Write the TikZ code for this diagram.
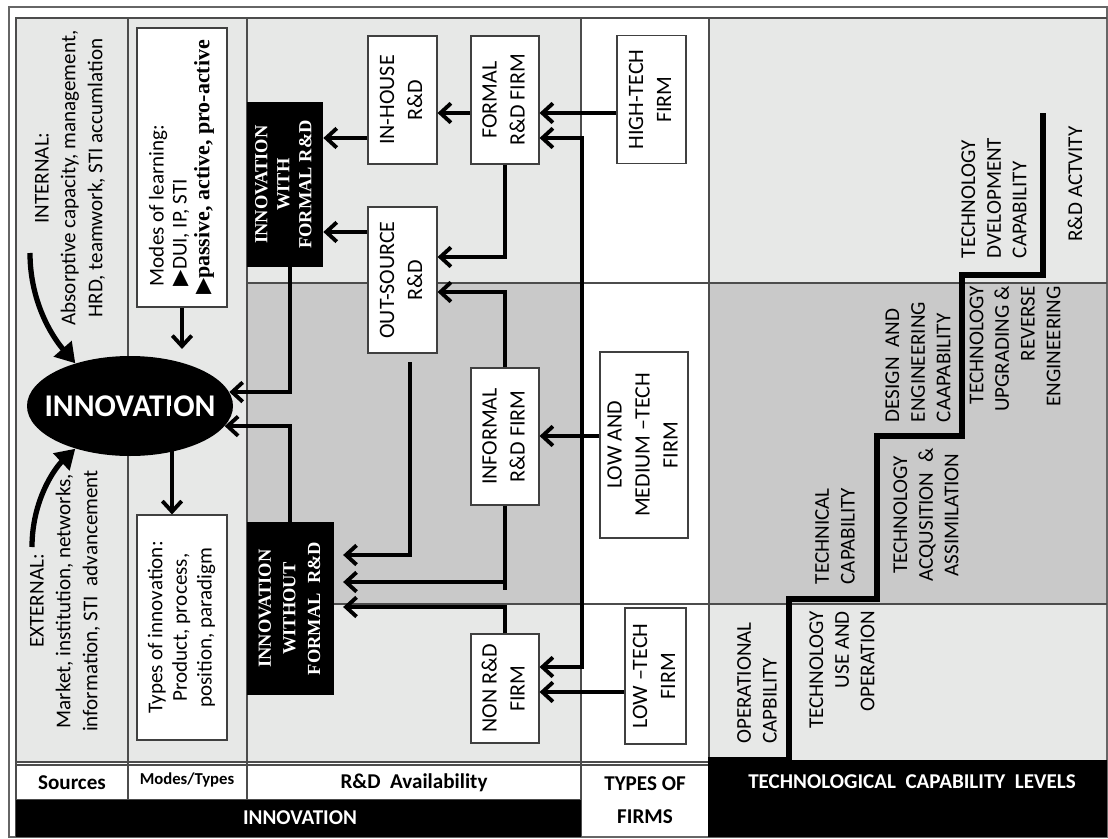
\documentclass[tikz,border=0pt]{standalone}
\usepackage{fontspec}
\setmainfont{Carlito}
\newfontfamily\serifbf{Liberation Serif}
\newfontfamily\symfont{DejaVu Sans}
\usepackage{graphicx}
\usepackage{tikz}
\usetikzlibrary{arrows.meta,shapes.geometric}

\newcommand{\pxu}{0.02cm}
\newcommand{\vt}[2][c]{\rotatebox{90}{\begin{tabular}{@{}#1@{}}#2\end{tabular}}}

\definecolor{lightbg}{RGB}{231,232,231}
\definecolor{darkbg}{RGB}{201,201,201}

\tikzset{
  grid line/.style={draw=black!70, line width=0.6pt},
  sz/.style 2 args={minimum width=#1*\pxu, minimum height=#2*\pxu},
  firm/.style={draw=black!75, fill=white, line width=0.6pt, inner sep=0pt,
    font=\fontsize{12.5}{16}\selectfont},
  darkbox/.style={fill=black, text=white, inner sep=0pt,
    font=\serifbf\bfseries\fontsize{10.5}{12.5}\selectfont},
  vlab/.style={rotate=90, inner sep=0pt, font=\fontsize{12}{14.6}\selectfont},
  head/.style={inner sep=0pt, font=\bfseries\fontsize{12}{19}\selectfont},
  flow/.style={line width=2.2pt, ->},
  wire/.style={line width=2.2pt},
  bigarrow/.style={line width=3pt, -{Triangle[length=11pt,width=13pt]}},
  stair/.style={line width=3.2pt},
}

\begin{document}
\begin{tikzpicture}[x=0.02cm, y=-0.02cm, >={Straight Barb[length=6pt,width=11pt]}]
    \useasboundingbox (0,0) rectangle (1108,838);
    
    % fonds des colonnes
    \fill[lightbg] (16,18) rectangle (247,762);
    \foreach \ya/\yb/\c in {18/283/lightbg, 283/604/darkbg, 604/762/lightbg}{
        \fill[\c] (247,\ya) rectangle (581,\yb);
        \fill[\c] (709,\ya) rectangle (1107,\yb);
    }
    
    % cadre et grille
    \draw[black!60, line width=0.6pt] (9,7) rectangle (1107,837);
    \draw[grid line] (16,837) -- (16,18) -- (1107,18);
    \foreach \x/\yb in {128/800, 247/800, 581/837, 709/765}{
        \draw[grid line] (\x,18) -- (\x,\yb);}
    \foreach \y in {283,604}{
        \draw[grid line] (247,\y) -- (1107,\y);}
    \draw[grid line] (16,762) -- (709,762);
    \draw[grid line] (16,765) -- (709,765);
    \draw[grid line] (16,800) -- (581,800);
    \fill[black] (16,800) rectangle (581,837);
    \fill[black] (708,760) rectangle (1107,837);
    
    % en-tetes
    \node[head] (hsrc) at (72,783) {Sources};
    \node[head, font=\bfseries\fontsize{9.5}{11}\selectfont] (hmod) at (187,780) {Modes/Types};
    \node[head] (hrd) at (414,783) {R\&D\ \ Availability};
    \node[head, align=center] (htyp) at (645,800) {TYPES OF\\FIRMS};
    \node[head, text=white] (hinn) at (300,818) {INNOVATION};
    \node[head, text=white] (htec) at (912,782) {TECHNOLOGICAL\ \ CAPABILITY\ \ LEVELS};
    
    % sources
    \node[vlab, align=center, font=\fontsize{12}{15.3}\selectfont] (internal) at (70,178)
        {INTERNAL:\\Absorptive capacity, management,\\HRD, teamwork, STI accumlation};
    \node[vlab, align=center, font=\fontsize{12}{15.3}\selectfont] (external) at (65,601)
        {EXTERNAL:\\Market, institution, networks,\\information, STI\ \ advancement};
    
    % innovation
    \node[ellipse, fill=black, inner sep=0pt, minimum width=206*\pxu, minimum height=100*\pxu]
        (innov) at (130,406) {};
    \node[text=white, inner sep=0pt, font=\bfseries\fontsize{18}{20}\selectfont]
        (innovtxt) at (innov.center) {INNOVATION};
    
    % modes / types
    \node[firm, sz={90}{279}, font=\fontsize{12}{13}\selectfont] (modes) at (182,167.5)
        {\vt[l]{\hspace{5pt}Modes of learning:\\\hspace{5pt}{\symfont ▶}DUI, IP, STI\\{\symfont ▶}{\serifbf\bfseries\fontsize{12.5}{13}\selectfont passive, active, pro-active}}};
    \node[firm, sz={90}{225}, font=\fontsize{12}{14}\selectfont] (types) at (182,627.5)
        {\vt{Types of innovation:\\Product, process,\\position, paradigm}};
    
    % R&D
    \node[darkbox, sz={76}{165}] (withrd) at (285,184.5) {\vt{INNOVATION\\WITH\\FORMAL R\&D}};
    \node[darkbox, sz={87}{173}, font=\serifbf\bfseries\fontsize{10.5}{14}\selectfont]
        (withoutrd) at (290.5,608.5) {\vt{INNOVATION\\WITHOUT\\FORMAL\ \ R\&D}};
    \node[firm, sz={69}{128}] (inhouse) at (402.5,100) {\vt{IN-HOUSE\\R\&D}};
    \node[firm, sz={68}{128}] (formal) at (505,100) {\vt{FORMAL\\R\&D FIRM}};
    \node[firm, sz={69}{146}] (outsource) at (402.5,280) {\vt{OUT-SOURCE\\R\&D}};
    \node[firm, sz={68}{137}] (informal) at (505,436.5) {\vt{INFORMAL\\R\&D FIRM}};
    \node[firm, sz={68}{109}] (nonrd) at (505,688.5) {\vt{NON R\&D\\FIRM}};
    
    % types of firms
    \node[firm, sz={69}{128}] (hightech) at (651.5,99.5) {\vt{HIGH-TECH\\FIRM}};
    \node[firm, sz={88}{186}] (lowmed) at (644,445) {\vt{LOW AND\\MEDIUM –TECH\\FIRM}};
    \node[firm, sz={61}{136}] (lowtech) at (655.5,676) {\vt{LOW –TECH\\FIRM}};
    
    % niveaux des fleches
    \foreach \n/\y in {yA/113, yB/138, yC/232, yD/257, yE/292, yH/436, yI/555, yJ/582, yK/607, yL/667, yM/692}{
        \coordinate (\n) at (0,\y);}
    \coordinate (bus) at (582,0);
    \coordinate (xOut) at (410,0);
    \coordinate (xInn) at (290,0);
    \coordinate (xTy) at (172,0);
    
    \draw[flow] (hightech.west |- yA) -- (formal.east |- yA);
    \draw[flow] (formal.west |- yA) -- (inhouse.east |- yA);
    \draw[flow] (inhouse.west |- yB) -- (withrd.east |- yB);
    \draw[flow] (outsource.west |- yC) -- (withrd.east |- yC);
    \draw[flow] (formal.south) |- (outsource.east |- yD);
    \draw[flow] (informal.north) |- (outsource.east |- yE);
    \draw[flow, <->] (formal.east |- yB) -- (bus |- yB) -- (bus |- yL) -- (nonrd.east |- yL);
    \draw[flow] (lowmed.west |- yH) -- (informal.east |- yH);
    \draw[flow] (lowtech.west |- yM) -- (nonrd.east |- yM);
    \draw[flow, shorten <=5pt, shorten >=5pt] (outsource.south -| xOut) |- (withoutrd.east |- yI);
    \draw[flow, shorten >=5pt] (informal.south) |- (withoutrd.east |- yJ);
    \draw[wire] (informal.south |- yJ) -- ++(0,8);
    \draw[flow, shorten >=5pt] (nonrd.north) |- (withoutrd.east |- yK);
    \draw[flow] (withrd.south -| xInn) |- (innov.8);
    \draw[flow] (withoutrd.north -| xInn) |- (innov.-12);
    \draw[flow, shorten >=3.8pt] (modes.south) -- (modes.south |- innov.north);
    \draw[flow] (innov -| xTy) -- (types.north -| xTy);
    
    % fleches courbes
    \coordinate (intsrc) at (30,253);
    \coordinate (extsrc) at (32,547);
    \draw[bigarrow] (intsrc) .. controls (30,305) and (55,340) .. (innov.142);
    \draw[bigarrow] (extsrc) .. controls (32,500) and (55,468) .. (innov.218);
    
    % escalier des capacites
    \draw[stair] (708,760) -| (789,599) -| (877,436) -| (962,275) -| (1043,113);
    \node[vlab, align=left] (opcap) at (757,683) {OPERATIONAL\\CAPBILITY};
    \node[vlab, align=right] (tuse) at (842,670) {TECHNOLOGY\\USE AND\\OPERATION};
    \node[vlab, align=left] (techcap) at (835,536) {TECHNICAL\\CAPABILITY};
    \node[vlab, align=center] (tacq) at (926,515) {TECHNOLOGY\\ACQUSITION\ \ \&\\ASSIMILATION};
    \node[vlab, align=left] (design) at (918,362) {DESIGN\ \ AND\\ENGINEERING\\CAAPABILITY};
    \node[vlab, align=right] (tupg) at (1015,349) {TECHNOLOGY\\UPGRADING \&\\REVERSE\\ENGINEERING};
    \node[vlab, align=left] (tdev) at (994,198) {TECHNOLOGY\\DVELOPMENT\\CAPABILITY};
    \node[vlab] (rdact) at (1075,184) {R\&D ACTVITY};
\end{tikzpicture}
\end{document}
